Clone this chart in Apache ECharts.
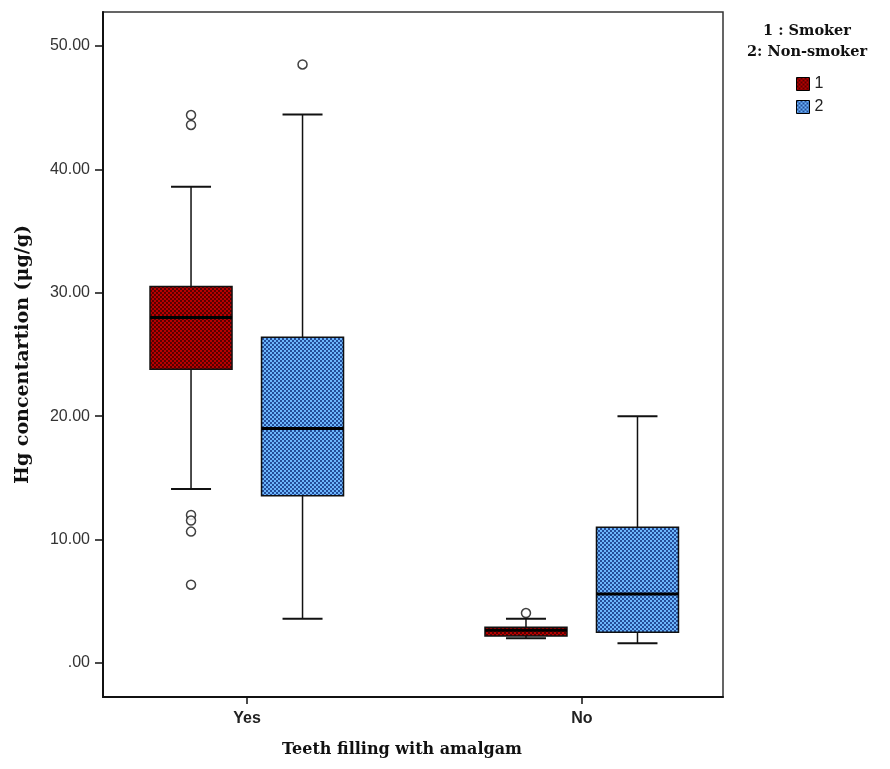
<!DOCTYPE html>
<html>
<head>
<meta charset="utf-8">
<title>Hg concentration boxplot</title>
<script src="https://cdn.jsdelivr.net/npm/echarts@6.0.0/dist/echarts.min.js"></script>
<style>
	html, body { margin: 0; padding: 0; background: #fff; }
	#chart { width: 890px; height: 769px; }
</style>
</head>
<body>
<div id="chart"></div>
<script>
	var categories = ['Yes', 'No'];
	var seriesNames = ['1', '2'];
	// [min, Q1, median, Q3, max]
	var smokerBoxes = [
		[14.1, 23.8, 28.0, 30.5, 38.6],
		[2.0, 2.2, 2.65, 2.9, 3.6]
	];
	var nonSmokerBoxes = [
		[3.6, 13.55, 19.0, 26.4, 44.45],
		[1.6, 2.5, 5.6, 11.0, 20.0]
	];
	// [category index, value]
	var smokerOutliers = [[0, 44.4], [0, 43.6], [0, 12.0], [0, 11.55], [0, 10.65], [0, 6.35], [1, 4.05]];
	var nonSmokerOutliers = [[0, 48.5]];
	var yTicks = [0, 10, 20, 30, 40, 50];
	var xTicks = [0, 1];

	/*点状填充图案*/
	function makePattern(bg, dot) {
		var c = document.createElement('canvas');
		c.width = 4;
		c.height = 4;
		var ctx = c.getContext('2d');
		ctx.fillStyle = bg;
		ctx.fillRect(0, 0, 4, 4);
		ctx.fillStyle = dot;
		ctx.beginPath();
		ctx.arc(1, 1, 1.0, 0, Math.PI * 2);
		ctx.closePath();
		ctx.moveTo(4, 3);
		ctx.arc(3, 3, 1.0, 0, Math.PI * 2);
		ctx.closePath();
		ctx.fill();
		return { image: c, repeat: 'repeat' };
	}
	var redFill = makePattern('#b80000', '#3a0000');
	var blueFill = makePattern('#6cb6fc', '#0c2a78');

	function withIndex(boxes) {
		var out = [];
		for (var i = 0; i < boxes.length; i++) {
			out.push([i].concat(boxes[i]));
		}
		return out;
	}

	function boxRenderer(offset, fill) {
		return function (params, api) {
			var x = api.value(0);
			var cx = api.coord([x, 0])[0] + offset;
			var yMin = api.coord([x, api.value(1)])[1];
			var yQ1 = api.coord([x, api.value(2)])[1];
			var yMed = api.coord([x, api.value(3)])[1];
			var yQ3 = api.coord([x, api.value(4)])[1];
			var yMax = api.coord([x, api.value(5)])[1];
			var half = 41;
			var cap = 20;
			var thin = { stroke: '#111', lineWidth: 1.5 };
			var capStyle = { stroke: '#111', lineWidth: 2 };
			return {
				type: 'group',
				children: [
					{ type: 'line', shape: { x1: cx, y1: yQ3, x2: cx, y2: yMax }, style: thin },
					{ type: 'line', shape: { x1: cx, y1: yQ1, x2: cx, y2: yMin }, style: thin },
					{ type: 'line', shape: { x1: cx - cap, y1: yMax, x2: cx + cap, y2: yMax }, style: capStyle },
					{ type: 'line', shape: { x1: cx - cap, y1: yMin, x2: cx + cap, y2: yMin }, style: capStyle },
					{
						type: 'rect',
						shape: { x: cx - half, y: yQ3, width: half * 2, height: yQ1 - yQ3 },
						style: { fill: fill, stroke: '#111', lineWidth: 1.5 }
					},
					{ type: 'line', shape: { x1: cx - half, y1: yMed, x2: cx + half, y2: yMed }, style: { stroke: '#000', lineWidth: 3 } }
				]
			};
		};
	}

	var chart = echarts.init(document.getElementById('chart'));
	var option = {
		backgroundColor: '#fff',
		animation: false,
		grid: {
			left: 103,
			right: 167,
			top: 12,
			bottom: 72,
			show: true,
			borderColor: '#333',
			borderWidth: 1.5
		},
		graphic: [{
			type: 'text',
			x: 807,
			y: 21,
			style: {
				text: '1 : Smoker\n2: Non-smoker',
				textAlign: 'center',
				textVerticalAlign: 'top',
				fontFamily: 'DejaVu Serif',
				fontWeight: 'bold',
				fontSize: 14.5,
				lineHeight: 21,
				fill: '#111'
			}
		}],
		legend: {
			orient: 'vertical',
			left: 796,
			top: 76,
			padding: 0,
			itemWidth: 13,
			itemHeight: 13,
			itemGap: 7,
			textStyle: {
				fontFamily: 'Liberation Sans',
				fontSize: 16,
				color: '#222'
			},
			data: [
				{ name: seriesNames[0], icon: 'rect', itemStyle: { color: redFill, borderColor: '#000', borderWidth: 1 } },
				{ name: seriesNames[1], icon: 'rect', itemStyle: { color: blueFill, borderColor: '#000', borderWidth: 1 } }
			]
		},
		xAxis: {
			type: 'value',
			min: -0.43,
			max: 1.421,
			name: 'Teeth filling with amalgam',
			nameLocation: 'middle',
			nameGap: 45,
			nameTextStyle: {
				fontFamily: 'DejaVu Serif',
				fontWeight: 'bold',
				fontSize: 16,
				color: '#111',
				padding: [0, 22, 0, 0]
			},
			axisLine: {
				show: true,
				onZero: false,
				lineStyle: { color: '#111', width: 2 }
			},
			axisTick: {
				show: true,
				length: 7,
				customValues: xTicks,
				lineStyle: { color: '#111', width: 1.5 }
			},
			axisLabel: {
				customValues: xTicks,
				margin: 14,
				fontFamily: 'Liberation Sans',
				fontWeight: 'bold',
				fontSize: 16,
				color: '#222',
				formatter: function (v) {
					return categories[v];
				}
			},
			splitLine: { show: false }
		},
		yAxis: {
			type: 'value',
			min: -2.75,
			max: 52.75,
			name: 'Hg concentartion (μg/g)',
			nameLocation: 'middle',
			nameGap: 70,
			nameTextStyle: {
				fontFamily: 'DejaVu Serif',
				fontWeight: 'bold',
				fontSize: 19,
				color: '#111'
			},
			axisLine: {
				show: true,
				onZero: false,
				lineStyle: { color: '#111', width: 2 }
			},
			axisTick: {
				show: true,
				length: 8,
				customValues: yTicks,
				lineStyle: { color: '#111', width: 1.5 }
			},
			axisLabel: {
				customValues: yTicks,
				margin: 13,
				fontFamily: 'Liberation Sans',
				fontSize: 16,
				color: '#333',
				formatter: function (v) {
					return v === 0 ? '.00' : v.toFixed(2);
				}
			},
			splitLine: { show: false }
		},
		series: [{
			name: seriesNames[0],
			type: 'custom',
			itemStyle: { color: redFill, borderColor: '#000' },
			encode: { x: 0, y: [1, 2, 3, 4, 5] },
			data: withIndex(smokerBoxes),
			renderItem: boxRenderer(-56, redFill)
		}, {
			name: seriesNames[1],
			type: 'custom',
			itemStyle: { color: blueFill, borderColor: '#000' },
			encode: { x: 0, y: [1, 2, 3, 4, 5] },
			data: withIndex(nonSmokerBoxes),
			renderItem: boxRenderer(55.5, blueFill)
		}, {
			name: seriesNames[0],
			type: 'scatter',
			symbol: 'circle',
			symbolSize: 9,
			symbolOffset: [-56, 0],
			itemStyle: { color: '#fff', borderColor: '#111', borderWidth: 1.5 },
			data: smokerOutliers,
			z: 5
		}, {
			name: seriesNames[1],
			type: 'scatter',
			symbol: 'circle',
			symbolSize: 9,
			symbolOffset: [55.5, 0],
			itemStyle: { color: '#fff', borderColor: '#111', borderWidth: 1.5 },
			data: nonSmokerOutliers,
			z: 5
		}]
	};
	chart.setOption(option);
</script>
</body>
</html>
